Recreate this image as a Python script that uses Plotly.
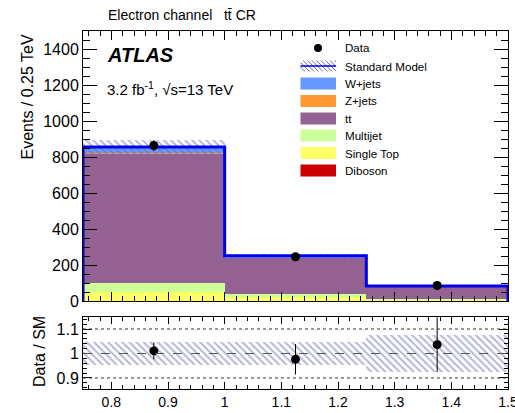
import plotly.graph_objects as go
import numpy as np

# ---------------- data ----------------
bin_edges = [0.75, 1.0, 1.25, 1.5]
samples = ["Diboson", "Single Top", "Multijet", "tt", "Z+jets", "W+jets"]
diboson = [2, 1, 0.5]
single_top = [46, 22, 8]
multijet = [50, 15, 3]
ttbar = [719, 205, 67]
zjets = [4, 1, 0.5]
wjets = [34, 8, 4]
data = [864, 246, 86]
sm_unc_frac = [0.047, 0.045, 0.075]
x_tick_vals = [0.8, 0.9, 1.0, 1.1, 1.2, 1.3, 1.4, 1.5]
x_tick_text = ["0.8", "0.9", "1", "1.1", "1.2", "1.3", "1.4", "1.5"]

colors = {
    "Diboson": "#cc0000",
    "Single Top": "#ffff66",
    "Multijet": "#ccff99",
    "tt": "#936293",
    "Z+jets": "#ff9933",
    "W+jets": "#6699ff",
}
legend_order = ["W+jets", "Z+jets", "tt", "Multijet", "Single Top", "Diboson"]

stack_vals = [diboson, single_top, multijet, ttbar, zjets, wjets]

edges = np.array(bin_edges)
centers = (edges[:-1] + edges[1:]) / 2
widths = edges[1:] - edges[:-1]
total = np.sum(np.array(stack_vals, dtype=float), axis=0)
unc = np.array(sm_unc_frac)
data_arr = np.array(data, dtype=float)

FONT = "Liberation Sans, Arial, Helvetica, sans-serif"
W, H = 515, 413
L, R, T, B = 83, 7, 31, 24
PW, PH = W - L - R, H - T - B


def px(xp):
    return (xp - L) / PW


def py(yp):
    return (H - B - yp) / PH


fig = go.Figure()

# stacked histogram
base = np.zeros(len(centers))
for name, vals in zip(samples, stack_vals):
    v = np.array(vals, dtype=float)
    fig.add_trace(go.Bar(x=centers, y=v, base=base, width=widths,
                         marker=dict(color=colors[name], line=dict(width=0)),
                         showlegend=False, xaxis="x", yaxis="y"))
    base = base + v

# uncertainty hatch (main)
HATCH_COL = "#6a6ab8"
hatch = dict(shape="\\", fgcolor=HATCH_COL, size=5, solidity=0.4, fillmode="overlay")
fig.add_trace(go.Bar(x=centers, y=2 * total * unc, base=total * (1 - unc), width=widths,
                     marker=dict(color="rgba(0,0,0,0)", line=dict(width=0), pattern=hatch),
                     showlegend=False, xaxis="x", yaxis="y"))

# SM outline
sx, sy = [edges[0]], [0]
for i in range(len(total)):
    sx += [edges[i], edges[i + 1]]
    sy += [total[i], total[i]]
sx.append(edges[-1]); sy.append(0)
fig.add_trace(go.Scatter(x=sx, y=sy, mode="lines", line=dict(color="#0000ee", width=3),
                         showlegend=False, xaxis="x", yaxis="y"))

# data points (main)
fig.add_trace(go.Scatter(x=centers, y=data_arr, mode="markers",
                         marker=dict(color="black", size=9),
                         error_y=dict(type="data", array=np.sqrt(data_arr), color="black",
                                      thickness=1, width=0),
                         showlegend=False, xaxis="x", yaxis="y"))

# ratio band
fig.add_trace(go.Bar(x=centers, y=2 * unc, base=1 - unc, width=widths,
                     marker=dict(color="rgba(0,0,0,0)", line=dict(width=0), pattern=hatch),
                     showlegend=False, xaxis="x2", yaxis="y2"))
ratio = data_arr / total
ratio_err = np.sqrt(data_arr) / total
fig.add_trace(go.Scatter(x=centers, y=ratio, mode="markers",
                         marker=dict(color="black", size=9),
                         error_y=dict(type="data", array=ratio_err, color="black",
                                      thickness=1, width=0),
                         showlegend=False, xaxis="x2", yaxis="y2", cliponaxis=True))

shapes = []
# reference lines in ratio panel
shapes.append(dict(type="line", xref="x2", yref="y2", x0=edges[0], x1=edges[-1], y0=1, y1=1,
                   line=dict(color="#555555", width=1, dash="dash")))
for yv in (0.9, 1.1):
    shapes.append(dict(type="line", xref="x2", yref="y2", x0=edges[0], x1=edges[-1], y0=yv, y1=yv,
                       line=dict(color="#333333", width=1, dash="dot")))

annotations = []

def ptext(text, x, y, size, xanchor="left", yanchor="middle", angle=0):
    annotations.append(dict(text=text, xref="paper", yref="paper", x=px(x), y=py(y),
                            xanchor=xanchor, yanchor=yanchor, showarrow=False,
                            textangle=angle, font=dict(family=FONT, size=size, color="black")))

# legend (manual)
sw_x0, sw_x1 = 300.5, 336
txt_x = 342.5
rows = [48, 66, 83.5, 101, 118.5, 135.5, 153, 170.5]
# Data
shapes.append(dict(type="circle", xref="paper", yref="paper",
                   x0=px(318 - 4), x1=px(318 + 4), y0=py(rows[0] + 4), y1=py(rows[0] - 4),
                   fillcolor="black", line=dict(color="black", width=0)))
ptext("Data", txt_x, rows[0], 11.6)
# Standard Model hatch swatch
top, bot = rows[1] - 5.5, rows[1] + 5.5
hh = bot - top
step = 4.5
s = sw_x0 - hh
while s < sw_x1:
    xa, ya = s, top
    xb, yb = s + hh, bot
    if xa < sw_x0:
        ya = top + (sw_x0 - xa); xa = sw_x0
    if xb > sw_x1:
        yb = top + (sw_x1 - s); xb = sw_x1
    if xb > xa:
        shapes.append(dict(type="line", xref="paper", yref="paper", x0=px(xa), y0=py(ya),
                           x1=px(xb), y1=py(yb), line=dict(color=HATCH_COL, width=1)))
    s += step
shapes.append(dict(type="line", xref="paper", yref="paper", x0=px(sw_x0), x1=px(sw_x1),
                   y0=py(rows[1]), y1=py(rows[1]), line=dict(color="#0000ee", width=1.5)))
ptext("Standard Model", txt_x, rows[1], 11.6)
for name, yr in zip(legend_order, rows[2:]):
    shapes.append(dict(type="rect", xref="paper", yref="paper", x0=px(sw_x0), x1=px(sw_x1),
                       y0=py(yr - 6), y1=py(yr + 6), fillcolor=colors[name], line=dict(width=0)))
    ptext(name, txt_x, yr, 11.6)

# texts
ptext("Electron channel\u00a0\u00a0\u00a0t\u0074\u0304 CR", 106, 15, 14)
ptext("<b><i>ATLAS</i></b>", 105, 55, 20)
ptext("3.2 fb<sup>-1</sup>, \u221as=13 TeV", 105, 88, 15)
ptext("Events / 0.25 TeV", 27, 32, 16, xanchor="center", yanchor="top", angle=-90)
ptext("Data / SM", 39, 352, 16, xanchor="center", yanchor="middle", angle=-90)

main_bottom = py(301)
ratio_top = py(317)

axis_common = dict(showline=True, linecolor="black", linewidth=1, mirror="ticks",
                   ticks="inside", tickcolor="black", showgrid=False, zeroline=False,
                   automargin=False, ticklabeloverflow="allow",
                   tickfont=dict(family=FONT, size=14, color="black"))

fig.update_layout(
    width=W, height=H,
    margin=dict(l=L, r=R, t=T, b=B, pad=0, autoexpand=False),
    paper_bgcolor="white", plot_bgcolor="white",
    barmode="overlay", bargap=0,
    showlegend=False,
    xaxis=dict(axis_common, domain=[0, 1], anchor="y", range=[0.75, 1.5],
               tickmode="array", tickvals=x_tick_vals, ticktext=x_tick_text,
               ticklen=9, showticklabels=False,
               minor=dict(ticks="inside", dtick=0.02, tick0=0.8, ticklen=5, tickcolor="black")),
    yaxis=dict(axis_common, domain=[main_bottom, 1], anchor="x", range=[0, 1500], dtick=200,
               ticklen=14, tickfont=dict(family=FONT, size=16, color="black"),
               minor=dict(ticks="inside", dtick=50, ticklen=7, tickcolor="black")),
    xaxis2=dict(axis_common, domain=[0, 1], anchor="y2", range=[0.75, 1.5],
                tickmode="array", tickvals=x_tick_vals, ticktext=x_tick_text,
                ticklen=7,
                minor=dict(ticks="inside", dtick=0.02, tick0=0.8, ticklen=4, tickcolor="black")),
    yaxis2=dict(axis_common, domain=[0, ratio_top], anchor="x2", range=[0.855, 1.149], dtick=0.1,
                tick0=0.9, ticklen=9, tickfont=dict(family=FONT, size=16, color="black"),
                minor=dict(ticks="inside", dtick=0.02, tick0=0.9, ticklen=4, tickcolor="black")),
    shapes=shapes,
    annotations=annotations,
)

fig.write_html("out.html")
